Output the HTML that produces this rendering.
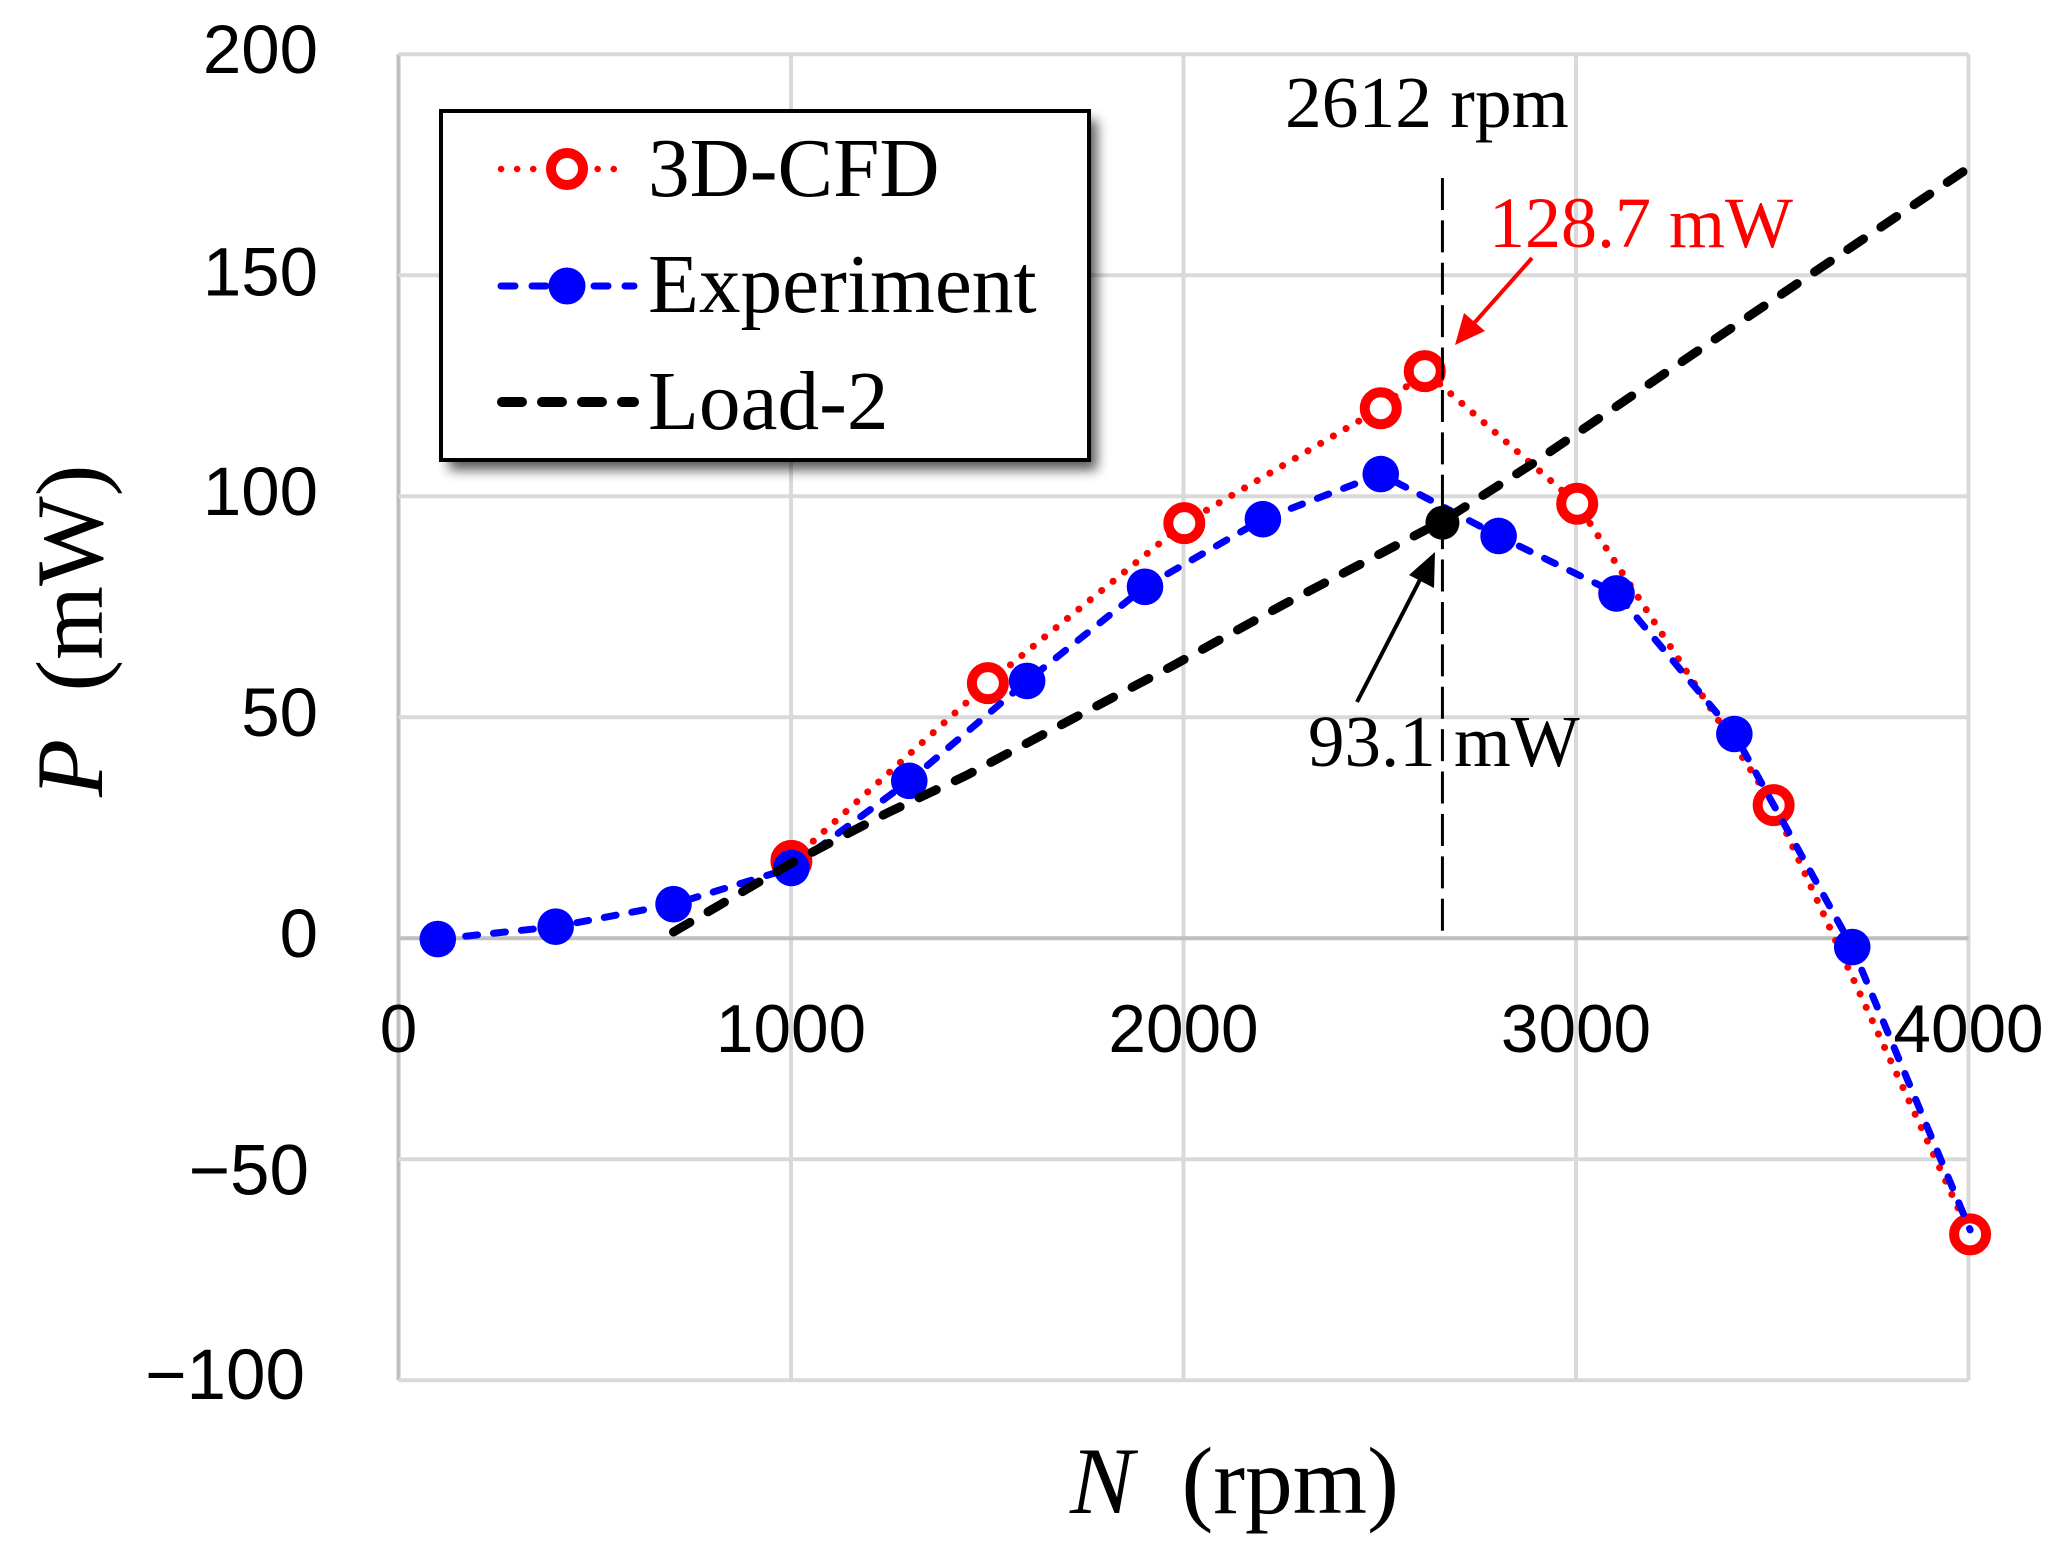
<!DOCTYPE html>
<html lang="en">
<head>
<meta charset="utf-8">
<title>P vs N chart</title>
<style>
html,body{margin:0;padding:0;background:#fff;width:2059px;height:1559px;overflow:hidden}
svg{display:block}
text{fill:#000}
.sans{font-family:"Liberation Sans",sans-serif}
.serif{font-family:"Liberation Serif",serif}
</style>
</head>
<body>
<svg id="chart" xmlns="http://www.w3.org/2000/svg" width="2059" height="1559" viewBox="0 0 2059 1559">
  <defs>
    <filter id="legend-shadow" x="-10%" y="-10%" width="125%" height="125%">
      <feGaussianBlur stdDeviation="6"/>
    </filter>
  </defs>
  <rect width="2059" height="1559" fill="#fff"/>
  <g id="grid"></g>
  <g id="tick-labels"></g>
  <g id="series"></g>

  <text class="serif" x="1070" y="1513" font-size="95.5" xml:space="preserve"><tspan font-style="italic">N</tspan>  (rpm)</text>
  <text class="serif" transform="translate(102,797) rotate(-90)" font-size="95" xml:space="preserve"><tspan font-style="italic">P</tspan>  (mW)</text>

  <g>
    <rect x="449" y="120" width="648" height="350" fill="#000" opacity="0.65" filter="url(#legend-shadow)"/>
    <rect x="441" y="111" width="648" height="349" fill="#fff" stroke="#000" stroke-width="4"/>
    <g>
      <line x1="501" y1="169" x2="624" y2="169" stroke="#f00" stroke-width="6.5" stroke-linecap="round" stroke-dasharray="0.1 16"/>
      <circle cx="567" cy="169" r="16" fill="#fff" stroke="#f00" stroke-width="10"/>
      <text class="serif" x="648" y="196" font-size="83.3">3D-CFD</text>
    </g>
    <g>
      <line x1="501" y1="286" x2="634" y2="286" stroke="#00f" stroke-width="7" stroke-linecap="round" stroke-dasharray="14 17"/>
      <circle cx="567" cy="286" r="18.5" fill="#00f"/>
      <text class="serif" x="648" y="312" font-size="83.3">Experiment</text>
    </g>
    <g>
      <line x1="502" y1="402" x2="634" y2="402" stroke="#000" stroke-width="10" stroke-linecap="round" stroke-dasharray="20 20"/>
      <text class="serif" x="648" y="429" font-size="83.3">Load-2</text>
    </g>
  </g>

  <text class="serif" x="1285" y="127" font-size="73.5">2612 rpm</text>
  <text class="serif" x="1489" y="247" font-size="72" style="fill:#f00">128.7 mW</text>
  <text class="serif" x="1308" y="766" font-size="73">93.1 mW</text>

  <g>
    <line x1="1532" y1="258" x2="1468" y2="330" stroke="#f00" stroke-width="4"/>
    <polygon points="1455,345 1464,313 1485,331" fill="#f00"/>
  </g>
  <g>
    <line x1="1357" y1="702" x2="1425" y2="570" stroke="#000" stroke-width="4"/>
    <polygon points="1435,552 1434,588 1409,575" fill="#000"/>
  </g>
  <g id="overlay"></g>
</svg>
<script>
const xTicks = [0, 1000, 2000, 3000, 4000];
const yTicks = [200, 150, 100, 50, 0, -50, -100];

const cfdSpeed = [1000, 1500, 2000, 2500, 2612, 3000, 3500, 4000];
const cfdPower = [17.5, 57.7, 93.9, 119.9, 128.3, 98.3, 30.1, -67];

const expSpeed = [100, 400, 700, 1000, 1300, 1600, 1900, 2200, 2500, 2800, 3100, 3400, 3700, 4000];
const expPower = [-0.2, 2.6, 7.7, 15.9, 35.6, 58.2, 79.5, 94.8, 105, 91, 78, 46.2, -2, -66];

const loadSpeed = [700, 1000, 1243, 1447, 1719, 1974, 2255, 2660, 2880, 3350, 4000];
const loadPower = [1.4, 17, 28.3, 36.9, 49.8, 61.8, 75.6, 94.5, 107, 135.5, 174.5];

const operatingSpeed = 2657;
const operatingPower = 94;
const guideTopPower = 172;
const guideBottomPower = 1.6;

const xGrid = v => 398.5 + 0.3925 * v;
const xAxis = v => 398.5 + 0.3929 * v;
const yAxis = v => 938.2 - 4.42 * v;
const NS = 'http://www.w3.org/2000/svg';
const gridG = document.getElementById('grid');
const labelG = document.getElementById('tick-labels');
const seriesG = document.getElementById('series');
const overlayG = document.getElementById('overlay');

function make(tag, parent, attrs) {
  const el = document.createElementNS(NS, tag);
  for (const k in attrs) el.setAttribute(k, attrs[k]);
  parent.appendChild(el);
  return el;
}

xTicks.forEach(v => {
  const line = make('line', gridG, {
    x1: xGrid(v), x2: xGrid(v), y1: yAxis(200), y2: yAxis(-100),
    stroke: v === 0 ? '#bfbfbf' : '#d9d9d9', 'stroke-width': 4
  });
  
  
  const label = make('text', labelG, {
    x: xGrid(v), y: 1052, 'font-size': 67.5, 'text-anchor': 'middle', class: 'sans'
  });
  label.textContent = String(v);
  
  
});

yTicks.forEach(v => {
  const line = make('line', gridG, {
    x1: xGrid(0), x2: xGrid(4000), y1: yAxis(v), y2: yAxis(v),
    stroke: v === 0 ? '#bfbfbf' : '#d9d9d9', 'stroke-width': 4
  });
  
  
  const dy = v === -50 ? 35.5 : v === -100 ? 19 : v === 150 ? 20.5 : 19;
  const right = v === -50 ? 309 : v === -100 ? 305 : 318;
  const label = make('text', labelG, {
    x: right, y: yAxis(v) + dy, 'font-size': v < 0 ? 71 : 69, 'text-anchor': 'end', class: 'sans'
  });
  label.textContent = String(v).replace('-', '\u2212');
  
  
});

function toPoints(xs, ys) {
  return xs.map((x, i) => xAxis(x).toFixed(1) + ',' + yAxis(ys[i]).toFixed(1)).join(' ');
}

const cfdLine = make('polyline', seriesG, {
  points: toPoints(cfdSpeed, cfdPower), fill: 'none', stroke: '#f00',
  'stroke-width': 7, 'stroke-linecap': 'round', 'stroke-dasharray': '0.1 14.6'
});



cfdSpeed.forEach((s, i) => {
  const dot = make('circle', seriesG, {
    cx: xAxis(s), cy: yAxis(cfdPower[i]), r: 16, fill: '#fff', stroke: '#f00', 'stroke-width': 10
  });
  
  
});

const expLine = make('polyline', seriesG, {
  points: toPoints(expSpeed, expPower), fill: 'none', stroke: '#00f',
  'stroke-width': 7, 'stroke-linecap': 'round', 'stroke-dasharray': '12 16'
});



expSpeed.forEach((s, i) => {
  if (s === 4000) return;
  const dot = make('circle', seriesG, {
    cx: xAxis(s), cy: yAxis(expPower[i]), r: 18.3, fill: '#00f'
  });
  
  
});

const loadLine = make('polyline', seriesG, {
  points: toPoints(loadSpeed, loadPower), fill: 'none', stroke: '#000',
  'stroke-width': 9, 'stroke-linecap': 'round', 'stroke-dasharray': '19 21'
});



const guide = make('line', overlayG, {
  x1: xAxis(operatingSpeed), x2: xAxis(operatingSpeed),
  y1: yAxis(guideTopPower), y2: yAxis(guideBottomPower),
  stroke: '#000', 'stroke-width': 3, 'stroke-dasharray': '32 10.4'
});



const opDot = make('circle', overlayG, {
  cx: xAxis(operatingSpeed), cy: yAxis(operatingPower), r: 17, fill: '#000'
});


</script>
</body>
</html>
